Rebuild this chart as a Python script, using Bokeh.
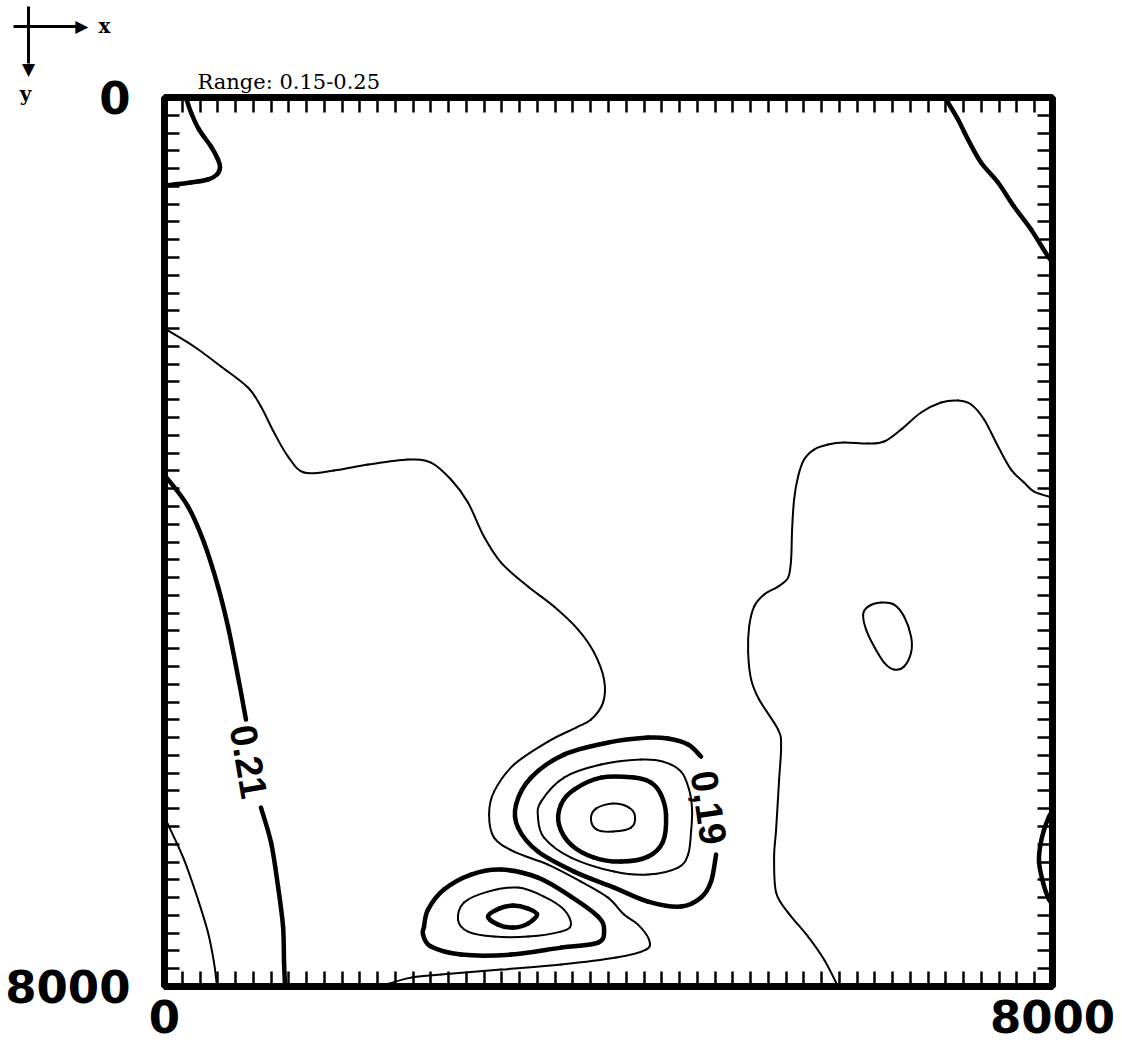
from bokeh.plotting import figure
from bokeh.models import Range1d, LinearAxis, FixedTicker
from bokeh.embed import file_html
from bokeh.resources import INLINE
from bokeh.core.properties import value

# ---------------- data (x, y in model units 0..8000, y grows downward) ----------------
title_text = "Range: 0.15-0.25"
axis_ticks = [0, 8000]
minor_ticks = list(range(160, 8000, 160))

# thick contour, top-left corner
tl_x = [194, 239, 311, 419, 482, 500, 473, 392, 239, 86, 0]
tl_y = [0, 135, 288, 441, 558, 630, 693, 738, 765, 783, 792]

# thick contour, top-right corner
tr_x = [7041, 7059, 7149, 7239, 7356, 7509, 7653, 7807, 7960, 8000]
tr_y = [0, 45, 198, 378, 585, 765, 981, 1188, 1431, 1476]

# thin contour, long one from left edge down to the bottom
long_x = [0, 266, 509, 752, 869, 987, 1113, 1257, 1527, 1834, 2194, 2401, 2581, 2734,
          2878, 3032, 3275, 3509, 3726, 3870, 3960, 3951, 3843, 3708, 3455, 3149, 2969,
          2924, 2969, 3149, 3455, 3752, 3996, 4140, 4266, 4365, 4338, 4068, 3573, 3032,
          2491, 2221, 1996, 1950]
long_y = [2079, 2241, 2421, 2610, 2781, 3015, 3231, 3375, 3357, 3303, 3258, 3285, 3438, 3645,
          3951, 4185, 4401, 4581, 4788, 4995, 5238, 5445, 5598, 5670, 5796, 6003, 6246,
          6453, 6660, 6786, 6903, 7056, 7200, 7353, 7443, 7578, 7668, 7740, 7803, 7848,
          7893, 7920, 7983, 8000]

# thick 0.21 contour on the left (split by its label)
c021a_x = [0, 32, 212, 356, 482, 572, 662, 734]
c021a_y = [3420, 3438, 3681, 4005, 4401, 4761, 5211, 5598]
c021b_x = [869, 960, 1023, 1068, 1077, 1086]
c021b_y = [6390, 6705, 7101, 7461, 7785, 8000]

# thin contour, lower-left corner
ll_x = [0, 32, 176, 302, 392, 446, 473]
ll_y = [6480, 6543, 6858, 7218, 7515, 7785, 8000]

# thin contour, right side
right_x = [8000, 7834, 7744, 7627, 7510, 7384, 7267, 7150, 6996, 6816, 6636, 6483, 6339,
           6122, 5978, 5852, 5762, 5708, 5672, 5654, 5645, 5618, 5528, 5402, 5312, 5267,
           5258, 5285, 5357, 5528, 5555, 5537, 5510, 5492, 5510, 5618, 5798, 5942, 6068]
right_y = [3600, 3546, 3465, 3348, 3141, 2898, 2763, 2727, 2745, 2835, 2988, 3096, 3114,
           3105, 3123, 3168, 3258, 3411, 3618, 3888, 4158, 4320, 4401, 4473, 4581, 4761,
           4995, 5238, 5418, 5688, 5841, 6138, 6588, 6831, 7155, 7335, 7551, 7758, 8000]

# thin closed contour, small ellipse on the right
eye_x = [6456, 6573, 6663, 6726, 6726, 6663, 6573, 6483, 6393, 6321, 6294, 6339, 6456]
eye_y = [4545, 4563, 4671, 4851, 4995, 5121, 5148, 5085, 4941, 4788, 4653, 4581, 4545]

# upper cluster: thick 0.19 contour (open where its label sits)
c019_x = [4834, 4717, 4536, 4356, 3996, 3599, 3302, 3167, 3185, 3365, 3690, 4050, 4356,
          4654, 4834, 4924, 4969]
c019_y = [5931, 5823, 5769, 5760, 5805, 5913, 6120, 6363, 6570, 6786, 6966, 7110, 7236,
          7281, 7200, 7056, 6813]

# upper cluster: thin ring
up2_x = [4293, 3932, 3599, 3392, 3365, 3419, 3662, 4050, 4356, 4627, 4717, 4744, 4753,
         4726, 4654, 4491, 4293]
up2_y = [5958, 6003, 6120, 6336, 6480, 6660, 6840, 6966, 6993, 6930, 6813, 6606, 6408,
         6228, 6066, 5976, 5958]

# upper cluster: thick ring
up3_x = [4230, 3932, 3690, 3572, 3554, 3662, 3870, 4113, 4356, 4491, 4518, 4473, 4383, 4230]
up3_y = [6120, 6120, 6228, 6363, 6543, 6723, 6840, 6876, 6831, 6696, 6453, 6273, 6165, 6120]

# upper cluster: thin innermost ring
up4_x = [3842, 3887, 4041, 4185, 4239, 4203, 4041, 3896, 3842]
up4_y = [6498, 6399, 6354, 6390, 6471, 6570, 6606, 6588, 6498]

# lower cluster: thick outer ring
lo1_x = [2338, 2374, 2518, 2762, 3032, 3365, 3662, 3906, 3960, 3906, 3572, 3122, 2671,
         2401, 2329, 2338]
lo1_y = [7461, 7308, 7128, 6993, 6948, 7020, 7191, 7371, 7488, 7605, 7650, 7713, 7713,
         7641, 7533, 7461]

# lower cluster: thin middle ring
lo2_x = [2644, 2698, 2915, 3185, 3419, 3599, 3662, 3572, 3275, 2969, 2734, 2644]
lo2_y = [7398, 7245, 7146, 7110, 7191, 7308, 7443, 7506, 7551, 7551, 7506, 7398]

# lower cluster: thick innermost ring
lo3_x = [2915, 3014, 3140, 3275, 3356, 3275, 3140, 3005, 2915]
lo3_y = [7371, 7299, 7272, 7299, 7353, 7434, 7470, 7443, 7371]

# thick contour touching the right edge near the bottom
re_x = [8000, 7969, 7924, 7888, 7879, 7915, 7960, 8000]
re_y = [6426, 6471, 6588, 6741, 6885, 7065, 7200, 7263]

# contour labels
label_text = ["0.21", "0,19"]
label_x = [761, 4906]
label_y = [5976, 6390]
label_angle = [-1.40, -1.43]

thick_lines = [(tl_x, tl_y), (tr_x, tr_y), (c021a_x, c021a_y), (c021b_x, c021b_y),
               (c019_x, c019_y), (up3_x, up3_y), (lo1_x, lo1_y), (lo3_x, lo3_y), (re_x, re_y)]
thin_lines = [(long_x, long_y), (ll_x, ll_y), (right_x, right_y), (eye_x, eye_y),
              (up2_x, up2_y), (up4_x, up4_y), (lo2_x, lo2_y)]


def smooth_segments(lines):
    """Catmull-Rom curve through the read points, expressed as cubic Bezier segments."""
    out = {k: [] for k in ("x0", "y0", "x1", "y1", "cx0", "cy0", "cx1", "cy1")}
    for xs, ys in lines:
        pts = list(zip(xs, ys))
        closed = pts[0] == pts[-1]
        if closed:
            pts = pts[:-1]
        n = len(pts)
        nseg = n if closed else n - 1
        for i in range(nseg):
            def P(k):
                if closed:
                    return pts[k % n]
                return pts[min(max(k, 0), n - 1)]
            p0, p1, p2, p3 = P(i - 1), P(i), P(i + 1), P(i + 2)
            out["x0"].append(p1[0]); out["y0"].append(p1[1])
            out["x1"].append(p2[0]); out["y1"].append(p2[1])
            out["cx0"].append(p1[0] + (p2[0] - p0[0]) / 6.0)
            out["cy0"].append(p1[1] + (p2[1] - p0[1]) / 6.0)
            out["cx1"].append(p2[0] - (p3[0] - p1[0]) / 6.0)
            out["cy1"].append(p2[1] - (p3[1] - p1[1]) / 6.0)
    return out


# ---------------- figure ----------------
p = figure(frame_width=888, frame_height=889,
           x_range=Range1d(0, 8000), y_range=Range1d(8000, 0),
           output_backend="svg", toolbar_location=None,
           min_border_left=164, min_border_top=97, min_border_right=64, min_border_bottom=10,
           background_fill_color="white", border_fill_color="white")
p.xgrid.visible = False
p.ygrid.visible = False
p.outline_line_color = "black"
p.outline_line_width = 7

top_axis = LinearAxis()
right_axis = LinearAxis()
p.add_layout(top_axis, "above")
p.add_layout(right_axis, "right")
bottom_axis = p.below[0]
left_axis = p.left[0]

for ax in (bottom_axis, left_axis, top_axis, right_axis):
    ax.ticker = FixedTicker(ticks=axis_ticks, minor_ticks=minor_ticks)
    ax.axis_line_color = None
    ax.major_tick_in = 0
    ax.major_tick_out = 0
    ax.minor_tick_in = 15
    ax.minor_tick_out = 0
    ax.minor_tick_line_width = 2.5
    ax.minor_tick_line_color = "black"
    ax.major_label_text_font = "DejaVu Sans"
    ax.major_label_text_font_style = "bold"
    ax.major_label_text_font_size = "45px"
    ax.major_label_text_color = "black"

for ax in (top_axis, right_axis):
    ax.major_label_text_font_size = "1px"
    ax.major_label_text_color = None
    ax.major_label_standoff = 0

bottom_axis.major_label_standoff = 13
left_axis.major_label_standoff = 34

thin = smooth_segments(thin_lines)
thick = smooth_segments(thick_lines)
p.bezier(source=thin, x0="x0", y0="y0", x1="x1", y1="y1", cx0="cx0", cy0="cy0",
         cx1="cx1", cy1="cy1", line_color="black", line_width=2, line_cap="round")
p.bezier(source=thick, x0="x0", y0="y0", x1="x1", y1="y1", cx0="cx0", cy0="cy0",
         cx1="cx1", cy1="cy1", line_color="black", line_width=4.5, line_cap="round")

p.text(x=label_x, y=label_y, text=label_text, angle=label_angle,
       text_align="center", text_baseline="middle",
       text_font=value("Liberation Sans"), text_font_style="bold",
       text_font_size="38px", text_color="black")

# ---- title and x/y direction key, drawn outside the frame (overlay level, not clipped)
p.text(x=[297], y=[-135], text=[title_text], text_font=value("DejaVu Serif"),
       text_font_size="21px", text_align="left", text_baseline="alphabetic",
       text_color="black", level="overlay")
p.segment(x0=[-1360, -1225], y0=[-639, -819], x1=[-793, -1225], y1=[-639, -306],
          line_color="black", line_width=3, level="overlay")
p.text(x=[-745, -1225], y=[-639, -252], text=["\u25B6", "\u25BC"],
       text_font=value("DejaVu Sans"), text_font_size="17px", text_align="center",
       text_baseline="middle", text_color="black", level="overlay")
p.text(x=[-541, -1252], y=[-639, -27], text=["x", "y"], text_font=value("DejaVu Serif"),
       text_font_style="bold", text_font_size="20px", text_align="center",
       text_baseline="middle", text_color="black", level="overlay")

open("out.html", "w").write(file_html(p, INLINE))
